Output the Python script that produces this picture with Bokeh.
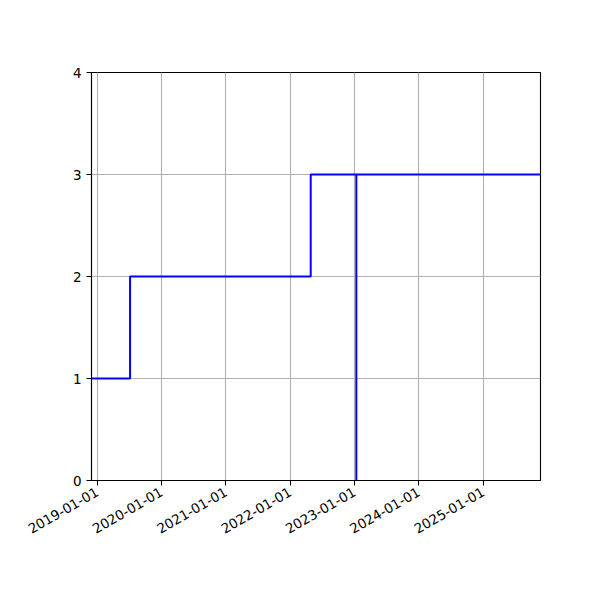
import math
from datetime import datetime
from bokeh.plotting import figure
from bokeh.models import Range1d, FixedTicker, DatetimeTickFormatter
from bokeh.embed import file_html
from bokeh.resources import INLINE

# step data
dates = ["2018-11-30", "2019-07-07", "2022-04-28", "2023-01-12", "2023-01-12", "2025-11-23"]
values = [1, 2, 3, 0, 3, 3]
tick_years = [2019, 2020, 2021, 2022, 2023, 2024, 2025]
y_ticks = [0, 1, 2, 3, 4]

x = [datetime.strptime(d, "%Y-%m-%d") for d in dates]
epoch = datetime(1970, 1, 1)
tick_ms = [(datetime(yr, 1, 1) - epoch).total_seconds() * 1000 for yr in tick_years]

p = figure(width=584, height=584, x_axis_type="datetime",
           x_range=Range1d(x[0], x[-1]), y_range=Range1d(0, 4),
           frame_width=449, frame_height=408,
           min_border_left=91, min_border_right=44, min_border_top=72, min_border_bottom=104,
           output_backend="svg", toolbar_location=None)

p.step(x, values, mode="after", line_color="#0000ff", line_width=2)

p.xaxis.ticker = FixedTicker(ticks=tick_ms)
fmt = "%Y-%m-%d"
p.xaxis.formatter = DatetimeTickFormatter(milliseconds=fmt, seconds=fmt, minsec=fmt, minutes=fmt,
                                          hourmin=fmt, hours=fmt, days=fmt, months=fmt, years=fmt)
p.xaxis.major_label_orientation = math.pi / 6
p.yaxis.ticker = FixedTicker(ticks=y_ticks)

for ax in (p.xaxis, p.yaxis):
    ax.major_label_text_font = "DejaVu Sans"
    ax.major_label_text_font_size = "13.5px"
    ax.major_label_text_color = "black"
    ax.axis_line_color = "black"
    ax.axis_line_width = 1.1
    ax.major_tick_line_color = "black"
    ax.major_tick_line_width = 1.1
    ax.major_tick_out = 5
    ax.major_tick_in = 0
    ax.minor_tick_line_color = None

p.grid.grid_line_color = "#b0b0b0"
p.grid.grid_line_width = 1.1
p.outline_line_color = "black"
p.outline_line_width = 1.1
p.background_fill_color = "white"
p.border_fill_color = "white"

open("out.html", "w").write(file_html(p, INLINE))
